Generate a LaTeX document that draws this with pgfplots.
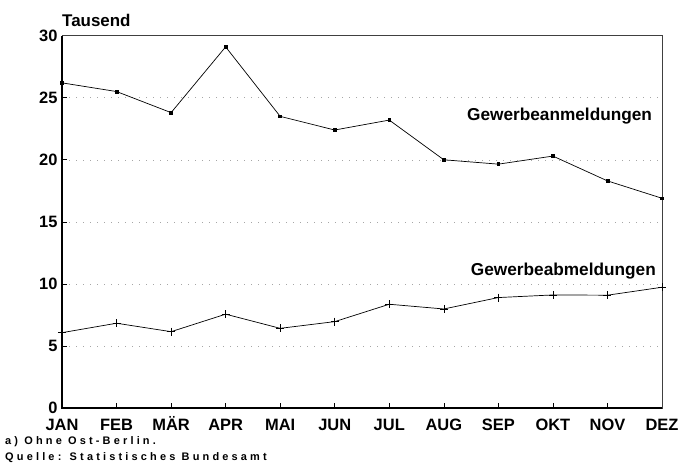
\documentclass[border=0pt]{standalone}
\usepackage{fontspec}
\setmainfont{Liberation Sans}
\usepackage{pgfplots}
\pgfplotsset{compat=1.18}
\begin{document}
\begin{tikzpicture}
\useasboundingbox (-62bp,-59bp) rectangle (617bp,408bp);
\begin{axis}[
  at={(0,0)}, anchor=south west,
  scale only axis, width=600bp, height=372.3bp,
  xmin=0, xmax=11, ymin=0, ymax=30,
  xtick={0,...,11},
  xticklabels={JAN,FEB,MÄR,APR,MAI,JUN,JUL,AUG,SEP,OKT,NOV,DEZ},
  ytick={0,5,10,15,20,25,30},
  /pgf/number format/assume math mode=true,
  tick label style={font=\fontsize{16.5}{18}\selectfont\bfseries},
  xticklabel style={anchor=base, text height=12bp, text depth=0bp, yshift=-22bp},
  yticklabel style={xshift=-1bp},
  tick pos=left,
  tick align=inside,
  major tick length=5bp,
  tick style={black, line width=0.6bp},
  axis line style={black!75, line width=0.6bp},
  ymajorgrids,
  major grid style={gray!70, line width=0.5bp, dash pattern=on 1bp off 6bp},
  clip=false,
]
\addplot[black, line width=0.7bp, mark=square*, mark size=1.4bp] coordinates {
  (0,26.2) (1,25.5) (2,23.8) (3,29.1) (4,23.5) (5,22.4)
  (6,23.2) (7,20.0) (8,19.65) (9,20.3) (10,18.3) (11,16.9)
};
\addplot[black, line width=0.7bp, mark=+, mark size=4bp, mark options={line width=0.6bp}] coordinates {
  (0,6.07) (1,6.83) (2,6.15) (3,7.56) (4,6.42) (5,6.96)
  (6,8.36) (7,7.98) (8,8.9) (9,9.11) (10,9.09) (11,9.73)
};
\node[anchor=base east, inner sep=0pt, font=\fontsize{17.3}{20}\selectfont\bfseries] at (axis cs:10.82,23.2) {Gewerbeanmeldungen};
\node[anchor=base east, inner sep=0pt, font=\fontsize{17.3}{20}\selectfont\bfseries] at (axis cs:10.89,10.65) {Gewerbeabmeldungen};
\draw[black, line width=1.2bp] (rel axis cs:0,1) -- (rel axis cs:0,0) -- (rel axis cs:1,0);
\end{axis}
\node[anchor=base west, inner sep=0pt, font=\fontsize{17}{20}\selectfont\bfseries] at (0bp,381bp) {Tausend};
\node[anchor=base west, inner sep=0pt, font=\fontsize{11}{12}\bfseries\addfontfeature{LetterSpace=29}] at (-57bp,-36bp) {a) Ohne Ost-Berlin.};
\node[anchor=base west, inner sep=0pt, font=\fontsize{11}{12}\bfseries\addfontfeature{LetterSpace=29}] at (-57bp,-52bp) {Quelle: Statistisches Bundesamt};
\end{tikzpicture}
\end{document}
